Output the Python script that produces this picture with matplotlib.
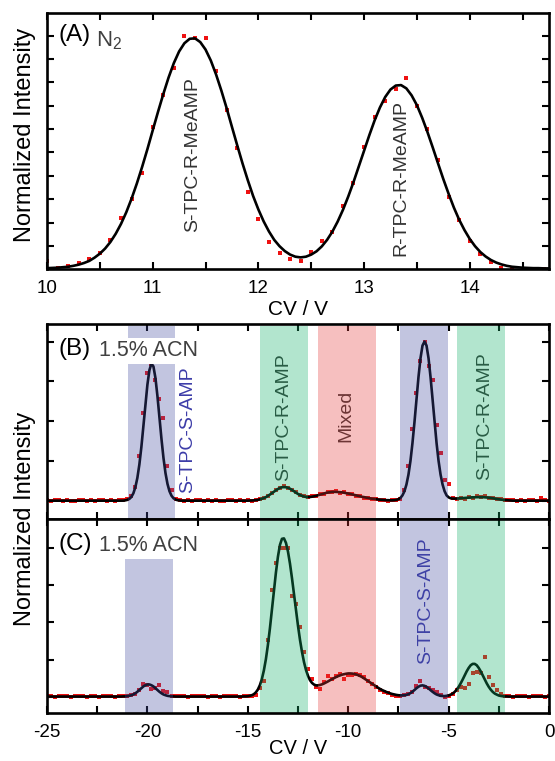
import matplotlib
matplotlib.use("Agg")
import matplotlib.pyplot as plt
import numpy as np
from matplotlib.ticker import MultipleLocator

plt.rcParams['font.family'] = ['Liberation Sans', 'DejaVu Sans']
plt.rcParams['mathtext.default'] = 'regular'
plt.rcParams['axes.unicode_minus'] = False

# ---------------- panel A: N2, CV 10 .. 14.75 V ----------------
# measured points, every 0.1 V from 10.0 to 14.7 V
a_points = [
    0.036, 0.007, 0.014, 0.026, 0.046, 0.069, 0.125, 0.220, 0.300, 0.410,
    0.610, 0.746, 0.862, 1.000, 0.990, 0.990, 0.850, 0.680, 0.518, 0.330,
    0.215, 0.116, 0.070, 0.046, 0.036, 0.076, 0.119, 0.160, 0.270, 0.369,
    0.524, 0.650, 0.720, 0.770, 0.820, 0.700, 0.600, 0.466, 0.310, 0.210,
    0.119, 0.065, 0.032, 0.007, 0.003, 0.003, 0.003, 0.003,
]
# fitted curve, every 0.05 V from 10.00 to 14.75 V
a_fit = [
    0.005, 0.006, 0.007, 0.009, 0.011, 0.015, 0.020, 0.027, 0.036, 0.050,
    0.067, 0.089, 0.117, 0.152, 0.194, 0.244, 0.302, 0.367, 0.438, 0.514,
    0.594, 0.673, 0.749, 0.820, 0.882, 0.932, 0.967, 0.986, 0.988, 0.972,
    0.940, 0.893, 0.833, 0.764, 0.689, 0.609, 0.530, 0.453, 0.381, 0.314,
    0.256, 0.205, 0.162, 0.126, 0.099, 0.078, 0.063, 0.054, 0.051, 0.054,
    0.063, 0.077, 0.098, 0.126, 0.161, 0.204, 0.254, 0.311, 0.373, 0.440,
    0.507, 0.574, 0.637, 0.692, 0.737, 0.769, 0.786, 0.788, 0.774, 0.744,
    0.702, 0.648, 0.587, 0.521, 0.453, 0.386, 0.323, 0.264, 0.212, 0.168,
    0.130, 0.099, 0.074, 0.055, 0.040, 0.029, 0.021, 0.015, 0.011, 0.009,
    0.007, 0.006, 0.005, 0.005, 0.004, 0.004,
]
a_labels = ['S-TPC-R-MeAMP', 'R-TPC-R-MeAMP']
a_label_pos = [(11.38, 0.49), (13.35, 0.39)]

# ---------------- panels B and C: 1.5% ACN, CV -25 .. 0 V ----------------
# measured points, every 0.2 V from -25.0 to 0.0 V
b_points = (
    [0.006, 0.004, 0.007, 0.005, 0.003, 0.006, 0.004, 0.002, 0.005, 0.007,
     0.004, 0.006, 0.003, 0.005, 0.008, 0.004, 0.006, 0.003, 0.005, 0.009]
    + [0.012, 0.030, 0.090, 0.280, 0.550, 0.800, 0.860, 0.760, 0.640, 0.520,
       0.220, 0.070, 0.015, 0.006]
    + [0.004, 0.006, 0.003, 0.005, 0.007, 0.004, 0.005, 0.003, 0.006, 0.004,
       0.002, 0.005, 0.007, 0.004, 0.006, 0.004]
    + [0.005, 0.004, 0.009, 0.013, 0.022, 0.030, 0.052, 0.072, 0.080, 0.092,
       0.085, 0.068, 0.055, 0.040, 0.032, 0.024, 0.030, 0.031, 0.044, 0.046,
       0.058, 0.056, 0.061, 0.054, 0.057, 0.046, 0.044, 0.034, 0.032, 0.022,
       0.021, 0.013, 0.014, 0.008, 0.009, 0.004, 0.008, 0.006, 0.015, 0.070,
       0.220, 0.450, 0.680, 0.880, 1.000, 0.850, 0.760, 0.480, 0.300, 0.130,
       0.110, 0.020, 0.014, 0.021, 0.016, 0.026, 0.022, 0.030, 0.028, 0.030,
       0.020, 0.022, 0.012, 0.015, 0.008, 0.006, 0.009, 0.004, 0.006, 0.003,
       0.007, 0.005, 0.004, 0.020, 0.006, 0.004]
)
c_points = (
    [0.004, 0.006, 0.003, 0.005, 0.004, 0.007, 0.003, 0.005, 0.006, 0.004,
     0.002, 0.005, 0.006, 0.003, 0.005, 0.004, 0.006, 0.003, 0.005, 0.004,
     0.008]
    + [0.016, 0.022, 0.045, 0.090, 0.080, 0.055, 0.062, 0.083, 0.040, 0.034,
       0.010, 0.006]
    + [0.004, 0.006, 0.003, 0.005, 0.007, 0.004, 0.005, 0.003, 0.006, 0.004,
       0.003, 0.005, 0.006, 0.004, 0.005, 0.003, 0.006, 0.004, 0.007, 0.012]
    + [0.060, 0.110, 0.380, 0.720, 0.900, 1.000, 1.000, 1.000, 0.680, 0.620,
       0.470, 0.300, 0.190, 0.120, 0.067, 0.052, 0.100, 0.140, 0.124, 0.140,
       0.157, 0.124, 0.150, 0.150, 0.157, 0.150, 0.135, 0.110, 0.090, 0.067,
       0.045, 0.033, 0.025, 0.012, 0.010, 0.005, 0.011, 0.018, 0.034, 0.075,
       0.110, 0.067, 0.060, 0.045, 0.034, 0.012, 0.002, 0.010, 0.020, 0.045,
       0.067, 0.063, 0.090, 0.160, 0.170, 0.164, 0.270, 0.135, 0.080, 0.045,
       0.018, 0.004]
    + [0.005, 0.003, 0.006, 0.004, 0.005, 0.003, 0.006, 0.004, 0.005, 0.003,
       0.004]
)
# fitted curves, every 0.1 V from -25.0 to 0.0 V
b_fit = (
    [0.003] * 39
    + [0.005, 0.008, 0.014, 0.026, 0.049, 0.087, 0.146, 0.230, 0.340, 0.470,
       0.606, 0.730, 0.821, 0.862, 0.844, 0.772, 0.658, 0.525, 0.390, 0.271,
       0.176, 0.108, 0.062, 0.034, 0.018, 0.010, 0.006, 0.004]
    + [0.003] * 32
    + [0.003, 0.003, 0.004, 0.004, 0.005, 0.006, 0.008, 0.011, 0.015, 0.019,
       0.025, 0.033, 0.041, 0.050, 0.059, 0.068, 0.076, 0.083, 0.087, 0.088,
       0.087, 0.084, 0.078, 0.070, 0.062, 0.053, 0.045, 0.038, 0.033, 0.029,
       0.026, 0.026, 0.026, 0.028, 0.030, 0.033, 0.037, 0.041, 0.044, 0.048,
       0.052, 0.054, 0.056, 0.058, 0.058, 0.058, 0.057, 0.056, 0.055, 0.053,
       0.050, 0.048, 0.045, 0.042, 0.039, 0.036, 0.033, 0.030, 0.027, 0.025,
       0.022, 0.020, 0.017, 0.015, 0.014, 0.012, 0.010, 0.009, 0.008, 0.007,
       0.006, 0.006, 0.005, 0.005, 0.006, 0.008, 0.012, 0.020, 0.036, 0.062,
       0.104, 0.166, 0.252, 0.364, 0.495, 0.638, 0.778, 0.896, 0.975, 1.000,
       0.975, 0.896, 0.778, 0.638, 0.495, 0.364, 0.252, 0.166, 0.104, 0.062,
       0.036, 0.024, 0.018, 0.016, 0.016, 0.016, 0.017, 0.018, 0.019, 0.020,
       0.021, 0.022, 0.023, 0.024, 0.024, 0.025, 0.025, 0.025, 0.025, 0.024,
       0.023, 0.022, 0.020, 0.018, 0.016, 0.014, 0.012, 0.010, 0.008, 0.007,
       0.006, 0.005, 0.004]
    + [0.003] * 19
)
c_fit = (
    [0.003] * 38
    + [0.004, 0.004, 0.006, 0.008, 0.012, 0.017, 0.025, 0.035, 0.047, 0.059,
       0.071, 0.079, 0.084, 0.084, 0.079, 0.071, 0.059, 0.047, 0.035, 0.025,
       0.017, 0.012, 0.008, 0.006, 0.004, 0.004]
    + [0.003] * 34
    + [0.004, 0.004, 0.005, 0.008, 0.012, 0.019, 0.031, 0.050, 0.079, 0.120,
       0.178, 0.253, 0.348, 0.459, 0.583, 0.711, 0.834, 0.940, 1.019, 1.060,
       1.063, 1.033, 0.975, 0.894, 0.796, 0.689, 0.580, 0.477, 0.382, 0.301,
       0.233, 0.180, 0.141, 0.112, 0.094, 0.083, 0.078, 0.078, 0.081, 0.085,
       0.091, 0.098, 0.105, 0.113, 0.120, 0.127, 0.134, 0.140, 0.145, 0.150,
       0.153, 0.156, 0.158, 0.158, 0.157, 0.155, 0.151, 0.146, 0.140, 0.133,
       0.124, 0.115, 0.106, 0.097, 0.088, 0.079, 0.070, 0.061, 0.053, 0.046,
       0.040, 0.034, 0.029, 0.024, 0.020, 0.017, 0.014, 0.012, 0.011, 0.011,
       0.012, 0.014, 0.019, 0.026, 0.036, 0.047, 0.059, 0.069, 0.076, 0.078,
       0.075, 0.068, 0.058, 0.046, 0.035, 0.025, 0.017, 0.012, 0.008, 0.007,
       0.006, 0.008, 0.010, 0.016, 0.023, 0.034, 0.049, 0.068, 0.091, 0.117,
       0.145, 0.172, 0.195, 0.213, 0.222, 0.222, 0.213, 0.195, 0.172, 0.145,
       0.117, 0.091, 0.068, 0.049, 0.034, 0.023, 0.016, 0.010, 0.007, 0.005,
       0.004, 0.004]
    + [0.003] * 21
)

# shaded CV windows (lo, hi, kind)
b_bands = [(-20.98, -18.65, 'S'), (-14.38, -11.99, 'R'), (-11.50, -8.60, 'M'),
           (-7.40, -5.04, 'S'), (-4.56, -2.18, 'R')]
c_bands = [(-21.11, -18.75, 'S'), (-14.38, -11.99, 'R'), (-11.50, -8.60, 'M'),
           (-7.40, -5.04, 'S'), (-4.56, -2.18, 'R')]
band_colors = {'S': '#434da1', 'R': '#12b169', 'M': '#e63a3a'}

b_labels = [('S-TPC-S-AMP', -18.0, 0.45, '#3c3ca8'),
            ('S-TPC-R-AMP', -13.23, 0.525, '#333333'),
            ('Mixed', -10.13, 0.535, '#333333'),
            ('S-TPC-R-AMP', -3.23, 0.53, '#333333')]
c_labels = [('S-TPC-S-AMP', -6.15, 0.645, '#3c3ca8')]

fig = plt.figure(figsize=(5.55, 7.61), dpi=100)
axA = fig.add_axes([0.0847, 0.6461, 0.9045, 0.3364])
axB = fig.add_axes([0.0847, 0.3184, 0.9045, 0.2558])
axC = fig.add_axes([0.0847, 0.0635, 0.9045, 0.2549])


def style(ax):
    for s in ax.spines.values():
        s.set_linewidth(1.9)
        s.set_zorder(10)
    ax.tick_params(which='both', direction='in', top=True, right=True,
                   length=5, width=1.5, labelsize=13.5, pad=8, labelleft=False)


def draw_trace(ax, x_pts, pts, x_fit, fit):
    ax.plot(x_pts, pts, 's', color='#ee1111', ms=3.2, mew=0, zorder=2)
    ax.plot(x_fit, fit, '-', color='black', lw=1.9, zorder=3)


# panel A
draw_trace(axA, np.linspace(10.0, 14.7, len(a_points)), a_points,
           np.linspace(10.0, 14.75, len(a_fit)), a_fit)
axA.set_xlim(10, 14.75)
axA.set_ylim(0, 1.095)
axA.xaxis.set_major_locator(MultipleLocator(1))
axA.xaxis.set_minor_locator(MultipleLocator(0.5))
axA.yaxis.set_major_locator(MultipleLocator(0.1))
style(axA)
axA.set_xlabel('CV / V', fontsize=15, labelpad=2)
for txt, (x, y) in zip(a_labels, a_label_pos):
    axA.text(x, y, txt, rotation=90, ha='center', va='center',
             fontsize=14, color='#333333')
axA.text(0.022, 0.915, '(A)', transform=axA.transAxes, fontsize=17.5,
         ha='left', va='center')
axA.text(0.097, 0.892, 'N$_2$', transform=axA.transAxes, fontsize=16,
         ha='left', va='center', color='#404040')

# panels B and C
for ax, pts, fit, bands, labels, tag, ylim, top_band in [
        (axB, b_points, b_fit, b_bands, b_labels, '(B)', (-0.11, 1.11), 0.99),
        (axC, c_points, c_fit, c_bands, c_labels, '(C)', (-0.105, 1.195), 1.0)]:
    draw_trace(ax, np.linspace(-25, 0, len(pts)), pts,
               np.linspace(-25, 0, len(fit)), fit)
    for i, (lo, hi, kind) in enumerate(bands):
        ymax = top_band
        if ax is axC and i == 0:
            ymax = 0.81
        ax.axvspan(lo, hi, ymin=0, ymax=ymax, color=band_colors[kind],
                   alpha=0.32, lw=0, zorder=4)
    for txt, x, y, col in labels:
        ax.text(x, y, txt, rotation=90, ha='center', va='center',
                fontsize=14, color=col, zorder=3.5)
    ax.set_xlim(-25, 0)
    ax.set_ylim(*ylim)
    ax.xaxis.set_major_locator(MultipleLocator(5))
    ax.xaxis.set_minor_locator(MultipleLocator(2.5))
    ax.yaxis.set_major_locator(MultipleLocator(0.25))
    style(ax)
    ax.text(0.022, 0.87, tag, transform=ax.transAxes, fontsize=17.5,
            ha='left', va='center', zorder=6)
    ax.text(0.104, 0.862, '1.5% ACN', transform=ax.transAxes, fontsize=15.5,
            ha='left', va='center', color='#404040', zorder=6,
            bbox=dict(facecolor='white', edgecolor='none', pad=2.0))

axB.tick_params(labelbottom=False)
axC.set_xlabel('CV / V', fontsize=14.5, labelpad=-1)

fig.text(25 / 555, 1 - 135 / 761, 'Normalized Intensity', rotation=90,
         ha='center', va='center', fontsize=17)
fig.text(25 / 555, 1 - 519 / 761, 'Normalized Intensity', rotation=90,
         ha='center', va='center', fontsize=17)

fig.savefig('out.png', dpi=100)
